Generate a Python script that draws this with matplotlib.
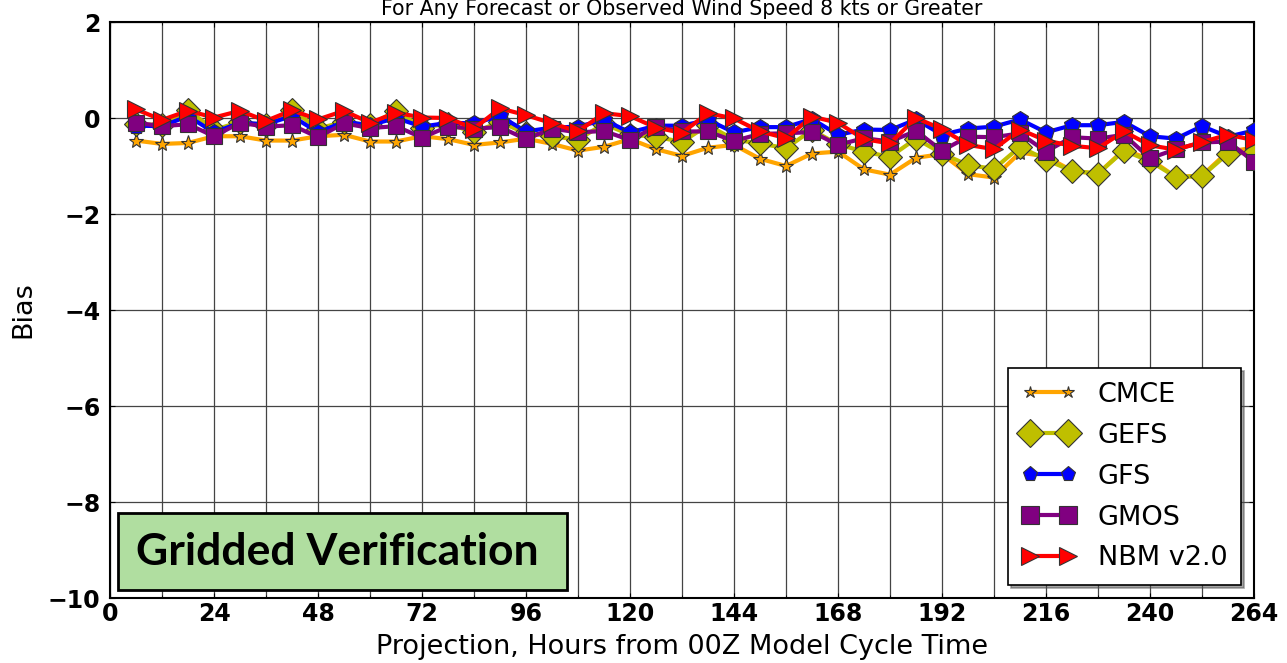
import numpy as np
import matplotlib
matplotlib.use('Agg')
import matplotlib.pyplot as plt
from matplotlib.patches import Rectangle

# forecast projection hours
hours = list(range(6, 265, 6))

# bias values
cmce = [-0.47, -0.54, -0.52, -0.38, -0.38, -0.47, -0.47, -0.38, -0.35, -0.49,
        -0.49, -0.38, -0.44, -0.56, -0.51, -0.43, -0.54, -0.68, -0.60, -0.44,
        -0.65, -0.79, -0.62, -0.56, -0.85, -1.00, -0.74, -0.70, -1.07, -1.18,
        -0.83, -0.75, -1.17, -1.24, -0.72, -0.80, -1.10, -1.16, -0.66, -0.86,
        -1.23, -1.20, -0.70, -0.62]
gefs = [-0.12, -0.15, 0.17, -0.25, -0.08, -0.15, 0.17, -0.22, -0.08, -0.15,
        0.15, -0.20, -0.12, -0.30, -0.08, -0.32, -0.38, -0.45, -0.12, -0.35,
        -0.39, -0.50, -0.15, -0.45, -0.53, -0.63, -0.25, -0.55, -0.70, -0.81,
        -0.43, -0.74, -0.98, -1.06, -0.60, -0.87, -1.10, -1.16, -0.68, -0.90,
        -1.23, -1.21, -0.74, -0.72]
gfs = [-0.16, -0.17, 0.04, -0.30, -0.10, -0.13, 0.04, -0.30, -0.08, -0.15,
       0.00, -0.18, -0.10, -0.11, 0.04, -0.28, -0.20, -0.18, -0.04, -0.30,
       -0.16, -0.16, -0.04, -0.30, -0.19, -0.19, -0.02, -0.35, -0.24, -0.25,
       -0.03, -0.35, -0.22, -0.18, -0.03, -0.30, -0.15, -0.15, -0.08, -0.38,
       -0.43, -0.17, -0.39, -0.26]
gmos = [-0.10, -0.17, -0.13, -0.38, -0.10, -0.18, -0.15, -0.40, -0.11, -0.21,
        -0.17, -0.41, -0.18, -0.22, -0.19, -0.44, -0.22, -0.30, -0.27, -0.46,
        -0.18, -0.28, -0.28, -0.48, -0.33, -0.32, -0.29, -0.56, -0.42, -0.49,
        -0.27, -0.68, -0.39, -0.40, -0.32, -0.70, -0.40, -0.43, -0.35, -0.84,
        -0.65, -0.51, -0.49, -0.91]
nbm = [0.18, -0.04, 0.15, 0.01, 0.15, -0.06, 0.16, -0.03, 0.15, -0.10,
       0.11, 0.01, 0.00, -0.22, 0.20, 0.06, -0.11, -0.28, 0.10, 0.04,
       -0.20, -0.31, 0.10, -0.01, -0.28, -0.42, 0.03, -0.10, -0.44, -0.53,
       0.00, -0.23, -0.56, -0.65, -0.24, -0.47, -0.58, -0.63, -0.28, -0.57,
       -0.66, -0.50, -0.35, -0.46]

xticks = list(range(0, 265, 24))
yticks = [2, 0, -2, -4, -6, -8, -10]

fig = plt.figure(figsize=(12.87, 6.63), dpi=100)
ax = fig.add_axes([110/1287, 65/663, 1144/1287, 576/663])

lw = 3
ax.plot(hours, cmce, color='orange', lw=lw, marker='*', ms=11,
        mfc='orange', mec='#333333', mew=0.8, label='CMCE', zorder=3)
ax.plot(hours, gefs, color='#BFBF00', lw=lw, marker='D', ms=12,
        mfc='#BFBF00', mec='#333333', mew=0.8, label='GEFS', zorder=4)
ax.plot(hours, gfs, color='blue', lw=lw, marker='p', ms=12,
        mfc='blue', mec='#333333', mew=0.8, label='GFS', zorder=5)
ax.plot(hours, gmos, color='purple', lw=lw, marker='s', ms=12,
        mfc='purple', mec='#333333', mew=0.8, label='GMOS', zorder=6)
ax.plot(hours, nbm, color='red', lw=lw, marker='>', ms=13,
        mfc='red', mec='#333333', mew=0.8, label='NBM v2.0', zorder=7)

ax.set_xlim(0, 264)
ax.set_ylim(-10, 2)
ax.set_xticks(xticks)
ax.set_xticks(range(12, 264, 24), minor=True)
ax.set_yticks(yticks)
ax.set_yticklabels(['2', '0', '\u22122', '\u22124', '\u22126', '\u22128', '\u221210'])
ax.tick_params(axis='both', which='both', direction='in', labelsize=17,
               top=True, right=True)
ax.tick_params(axis='x', pad=3)
ax.tick_params(axis='y', pad=7)
for lab in ax.get_xticklabels() + ax.get_yticklabels():
    lab.set_fontweight('bold')
ax.grid(True, which='both', color='#444444', lw=0.9)
ax.set_axisbelow(True)
for sp in ax.spines.values():
    sp.set_linewidth(1.5)

ax.set_xlabel('Projection, Hours from 00Z Model Cycle Time', fontsize=19.5, labelpad=6)
ax.set_ylabel('Bias', fontsize=19.5, labelpad=8)
fig.text(0.53, 1 - 15/663, 'For Any Forecast or Observed Wind Speed 8 kts or Greater',
         ha='center', va='baseline', fontsize=14.8)

leg = ax.legend(loc='lower right', bbox_to_anchor=(0.9886, 0.0226), numpoints=2,
                fontsize=19.5, frameon=True, fancybox=False, shadow=True,
                labelspacing=0.55, handlelength=2.0, borderpad=0.5,
                borderaxespad=0)
leg.get_frame().set_edgecolor('black')
leg.get_frame().set_linewidth(1.2)
for h, s in zip(leg.legend_handles, [9, 14, 11, 13, 13]):
    h.set_markersize(s)

ax.add_patch(Rectangle((0.007, 0.014), 0.3925, 0.1336, transform=ax.transAxes,
                       facecolor='#B0DEA0', edgecolor='black', lw=2, zorder=10))
ax.text(0.199, 0.08, 'Gridded Verification', transform=ax.transAxes,
        ha='center', va='center', fontsize=32, fontweight='bold',
        family='Lato', zorder=11)

fig.savefig('out.png', dpi=100)
